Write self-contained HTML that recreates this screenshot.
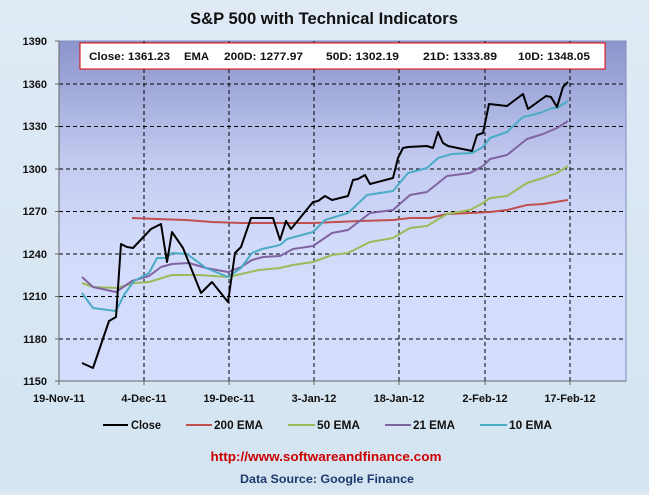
<!DOCTYPE html>
<html><head><meta charset="utf-8"><style>
html,body{margin:0;padding:0;}
body{width:649px;height:490px;overflow:hidden;background:#dbe8f3;font-family:"Liberation Sans",sans-serif;}
</style></head><body>
<svg width="649" height="490" xmlns="http://www.w3.org/2000/svg" font-family="Liberation Sans, sans-serif">
<defs>
<linearGradient id="bg" x1="0" y1="0" x2="0" y2="1">
<stop offset="0" stop-color="#dfeaf5"/><stop offset="1" stop-color="#d4e4f1"/></linearGradient>
<linearGradient id="pa" x1="0" y1="0" x2="0" y2="1">
<stop offset="0" stop-color="#8c94cc"/><stop offset="0.35" stop-color="#c2caf0"/><stop offset="0.6" stop-color="#d3dbfb"/><stop offset="1" stop-color="#d5ddfd"/></linearGradient>
</defs>
<rect width="649" height="490" fill="url(#bg)"/>
<text x="324" y="24" text-anchor="middle" font-size="17" font-weight="bold" fill="#111" textLength="268" lengthAdjust="spacingAndGlyphs">S&amp;P 500 with Technical Indicators</text>
<rect x="59" y="41" width="567" height="340" fill="url(#pa)" stroke="#7f8fbf" stroke-width="1"/>
<g stroke="#000" stroke-width="1" stroke-dasharray="4,3">
<line x1="59" y1="84" x2="626" y2="84"/><line x1="59" y1="126.5" x2="626" y2="126.5"/><line x1="59" y1="169" x2="626" y2="169"/><line x1="59" y1="211.5" x2="626" y2="211.5"/><line x1="59" y1="254" x2="626" y2="254"/><line x1="59" y1="296.5" x2="626" y2="296.5"/><line x1="59" y1="339" x2="626" y2="339"/>
<line x1="144" y1="41" x2="144" y2="381"/><line x1="229" y1="41" x2="229" y2="381"/><line x1="314" y1="41" x2="314" y2="381"/><line x1="399" y1="41" x2="399" y2="381"/><line x1="485" y1="41" x2="485" y2="381"/><line x1="570" y1="41" x2="570" y2="381"/>
</g>
<line x1="59" y1="41" x2="59" y2="381" stroke="#666"/><line x1="59" y1="381" x2="626" y2="381" stroke="#666"/>
<g stroke="#666"><line x1="55" y1="41" x2="59" y2="41"/><line x1="55" y1="84" x2="59" y2="84"/><line x1="55" y1="126.5" x2="59" y2="126.5"/><line x1="55" y1="169" x2="59" y2="169"/><line x1="55" y1="211.5" x2="59" y2="211.5"/><line x1="55" y1="254" x2="59" y2="254"/><line x1="55" y1="296.5" x2="59" y2="296.5"/><line x1="55" y1="339" x2="59" y2="339"/><line x1="55" y1="381" x2="59" y2="381"/>
<line x1="59" y1="381" x2="59" y2="385"/><line x1="144" y1="381" x2="144" y2="385"/><line x1="229" y1="381" x2="229" y2="385"/><line x1="314" y1="381" x2="314" y2="385"/><line x1="399" y1="381" x2="399" y2="385"/><line x1="485" y1="381" x2="485" y2="385"/><line x1="570" y1="381" x2="570" y2="385"/></g>
<g font-size="11" font-weight="bold" fill="#111" text-anchor="end">
<text x="47" y="45">1390</text><text x="47" y="88">1360</text><text x="47" y="130">1330</text><text x="47" y="173">1300</text><text x="47" y="215">1270</text><text x="47" y="258">1240</text><text x="47" y="300">1210</text><text x="47" y="343">1180</text><text x="47" y="385">1150</text></g>
<g font-size="11" font-weight="bold" fill="#111" text-anchor="middle">
<text x="59" y="402">19-Nov-11</text><text x="144" y="402">4-Dec-11</text><text x="229" y="402">19-Dec-11</text><text x="314" y="402">3-Jan-12</text><text x="399" y="402">18-Jan-12</text><text x="485" y="402">2-Feb-12</text><text x="570" y="402">17-Feb-12</text></g>
<g fill="none" stroke-width="2" stroke-linejoin="round">
<polyline stroke="#c0504d" points="132,218 156,219 186,220 212,222 242,223 259,223 280,223 313,223 360,221 393,220 410,218 430,218 447,214 470,213 490,212 507,210 527,205 543,204 568,200"/>
<polyline stroke="#9bbb59" points="82,283 93,287 117,288 134,283 149,282 172,275 199,275 228,277 259,270 280,268 293,265 313,262 332,255 348,253 370,242 393,238 410,228 427,226 447,214 470,210 483,203 490,198 507,196 527,183 543,178 557,173 568,166"/>
<polyline stroke="#8064a2" points="82,277 93,287 116,292 132,281 149,276 161,267 172,264 189,263 206,268 228,272 241,267 252,260 263,257 280,256 293,249 313,246 332,233 348,230 370,213 393,210 410,195 427,192 447,176 470,173 483,166 490,159 507,155 527,139 543,134 557,128 568,121"/>
<polyline stroke="#4bacc6" points="82,293 93,308 116,311 124,295 134,281 149,273 157,258 166,258 172,253 187,254 206,268 228,277 241,268 252,253 262,249 280,245 287,239 313,232 325,220 348,213 367,195 393,191 398,185 408,173 427,168 438,158 452,154 472,153 483,147 490,138 507,132 523,117 540,113 552,108 557,108 568,101"/>
<polyline stroke="#000" points="82,363 93,368 109,321 116,317 121,244 127,247 133,248 151,229 161,224 167,262 172,232 183,248 201,293 212,282 228,302 235,253 241,247 251,218 273,218 280,240 286,221 291,229 313,202 318,201 325,196 332,200 348,196 353,180 358,179 365,175 370,184 393,178 398,158 403,148 408,147 427,146 433,148 438,132 443,143 448,146 472,151 477,135 483,133 489,104 507,106 523,94 528,109 546,96 551,97 557,107 563,87 568,82"/>
</g>
<rect x="80" y="43" width="525" height="26" fill="#fff" stroke="#e00000" stroke-width="1"/>
<g font-size="11" font-weight="bold" fill="#111" lengthAdjust="spacingAndGlyphs">
<text x="89" y="60" textLength="81" lengthAdjust="spacingAndGlyphs">Close: 1361.23</text>
<text x="184" y="60" textLength="25" lengthAdjust="spacingAndGlyphs">EMA</text>
<text x="224" y="60" textLength="79" lengthAdjust="spacingAndGlyphs">200D: 1277.97</text>
<text x="326" y="60" textLength="73" lengthAdjust="spacingAndGlyphs">50D: 1302.19</text>
<text x="423" y="60" textLength="74" lengthAdjust="spacingAndGlyphs">21D: 1333.89</text>
<text x="518" y="60" textLength="72" lengthAdjust="spacingAndGlyphs">10D: 1348.05</text></g>
<g font-size="12" font-weight="bold" fill="#111">
<line x1="103" y1="425" x2="128" y2="425" stroke="#000" stroke-width="2"/><text x="131" y="429" textLength="30" lengthAdjust="spacingAndGlyphs">Close</text>
<line x1="186" y1="425" x2="212" y2="425" stroke="#c0504d" stroke-width="2"/><text x="214" y="429" textLength="49" lengthAdjust="spacingAndGlyphs">200 EMA</text>
<line x1="288" y1="425" x2="315" y2="425" stroke="#9bbb59" stroke-width="2"/><text x="317" y="429" textLength="43" lengthAdjust="spacingAndGlyphs">50 EMA</text>
<line x1="385" y1="425" x2="411" y2="425" stroke="#8064a2" stroke-width="2"/><text x="413" y="429" textLength="42" lengthAdjust="spacingAndGlyphs">21 EMA</text>
<line x1="480" y1="425" x2="507" y2="425" stroke="#4bacc6" stroke-width="2"/><text x="509" y="429" textLength="43" lengthAdjust="spacingAndGlyphs">10 EMA</text></g>
<text x="326" y="461" text-anchor="middle" font-size="13" font-weight="bold" fill="#cc0000" textLength="231" lengthAdjust="spacingAndGlyphs">http://www.softwareandfinance.com</text>
<text x="327" y="483" text-anchor="middle" font-size="12" font-weight="bold" fill="#1f3a6e" textLength="174" lengthAdjust="spacingAndGlyphs">Data Source: Google Finance</text>
</svg>
</body></html>
